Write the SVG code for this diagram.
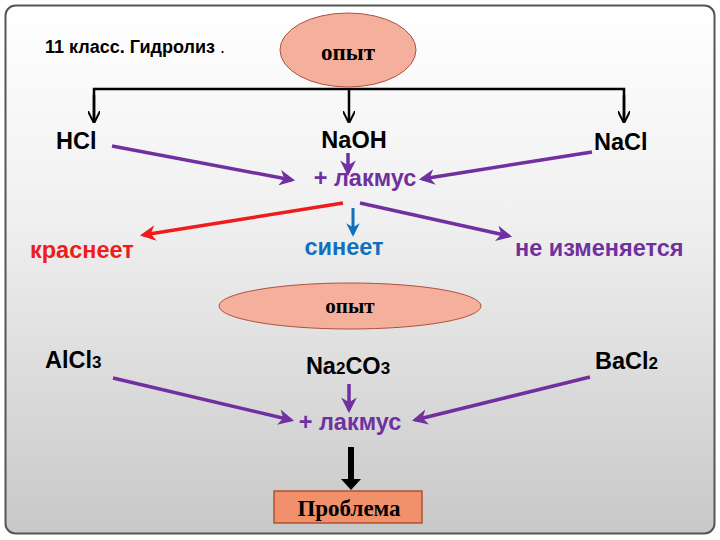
<svg xmlns="http://www.w3.org/2000/svg" width="720" height="540" viewBox="0 0 720 540">
<defs>
<linearGradient id="bg" x1="0" y1="0" x2="0" y2="1">
<stop offset="0" stop-color="#FFFFFF"/>
<stop offset="0.4" stop-color="#F0F0F0"/>
<stop offset="1" stop-color="#C8C8C8"/>
</linearGradient>
<marker id="mb" viewBox="0 0 10 10" refX="9" refY="5" markerWidth="5" markerHeight="5" orient="auto"><path d="M0,0 L10,5 L0,10" fill="none" stroke="#000" stroke-width="1.6"/></marker>
<marker id="mp" viewBox="0 0 10 10" refX="8" refY="5" markerWidth="4.5" markerHeight="4.5" orient="auto"><path d="M0,0 L10,5 L0,10 L3,5 Z" fill="#7030A0"/></marker>
<marker id="mr" viewBox="0 0 10 10" refX="8" refY="5" markerWidth="4.5" markerHeight="4.5" orient="auto"><path d="M0,0 L10,5 L0,10 L3,5 Z" fill="#EE1C1C"/></marker>
<marker id="mbl" viewBox="0 0 10 10" refX="8" refY="5" markerWidth="4.5" markerHeight="4.5" orient="auto"><path d="M0,0 L10,5 L0,10 L3,5 Z" fill="#1070C0"/></marker>
<style>
.t{font-family:"Liberation Sans",Arial,sans-serif;font-weight:bold;font-size:23.5px;fill:#000}
.s{font-family:"Liberation Serif","Times New Roman",serif;font-weight:bold;font-size:23px;fill:#000}
.p{stroke:#7030A0;stroke-width:3.5;fill:none;marker-end:url(#mp)}
.e{fill:#F4B09C;stroke:#B05040;stroke-width:1}
.sub{font-size:17px}
</style>
</defs>
<rect x="5.5" y="5.5" width="709" height="528" rx="10" fill="url(#bg)" stroke="#555" stroke-width="2"/>
<text x="45" y="53" font-family="'Liberation Sans',Arial,sans-serif" font-size="18" font-weight="bold">11 класс. Гидролиз<tspan font-weight="normal"> .</tspan></text>
<g id="connectors">
<path d="M94,122 V89 H624 V122" fill="none" stroke="#000" stroke-width="2.5"/>
<line x1="94" y1="95" x2="94" y2="122" stroke="#000" stroke-width="2.5" marker-end="url(#mb)"/>
<line x1="349" y1="89" x2="349" y2="122" stroke="#000" stroke-width="2.5" marker-end="url(#mb)"/>
<line x1="624" y1="95" x2="624" y2="122" stroke="#000" stroke-width="2.5" marker-end="url(#mb)"/>
<line class="p" x1="112" y1="146" x2="292" y2="180"/>
<line class="p" x1="348" y1="153" x2="348" y2="173"/>
<line class="p" x1="592" y1="152" x2="422" y2="179"/>
<line x1="343" y1="203" x2="143" y2="235" stroke="#EE1C1C" stroke-width="3.5" marker-end="url(#mr)"/>
<line x1="353" y1="208" x2="353" y2="234" stroke="#1070C0" stroke-width="3" marker-end="url(#mbl)"/>
<line class="p" x1="360" y1="203" x2="509" y2="236"/>
<line class="p" x1="113" y1="378" x2="291" y2="420"/>
<line class="p" x1="349" y1="384" x2="349" y2="410"/>
<line class="p" x1="590" y1="377" x2="415" y2="420"/>
<path d="M348,447 H354 V479 H361 L351,490 L341,479 H348 Z" fill="#000"/>
</g>
<g id="opyt1"><ellipse class="e" cx="348" cy="50" rx="68" ry="37"/><text class="s" x="348" y="60" text-anchor="middle">опыт</text></g>
<g id="hcl"><text class="t" x="56" y="149">HCl</text></g>
<g id="naoh"><text class="t" x="354" y="148" text-anchor="middle">NaOH</text></g>
<g id="nacl"><text class="t" x="594" y="150">NaCl</text></g>
<g id="lakmus1"><text class="t" x="365" y="186" text-anchor="middle" style="fill:#7030A0">+ лакмус</text></g>
<g id="red"><text class="t" x="30" y="258" style="fill:#EE1C1C">краснеет</text></g>
<g id="blue"><text class="t" x="344" y="255" text-anchor="middle" style="fill:#1070C0">синеет</text></g>
<g id="none"><text class="t" x="515" y="256" style="fill:#7030A0">не изменяется</text></g>
<g id="opyt2"><ellipse class="e" cx="350" cy="306" rx="131" ry="23"/><text class="s" x="350" y="313" text-anchor="middle" style="font-size:21px">опыт</text></g>
<g id="alcl3"><text class="t" x="45" y="368">AlCl<tspan class="sub">3</tspan></text></g>
<g id="na2co3"><text class="t" x="348" y="374" text-anchor="middle">Na<tspan class="sub">2</tspan>CO<tspan class="sub">3</tspan></text></g>
<g id="bacl2"><text class="t" x="595" y="369">BaCl<tspan class="sub">2</tspan></text></g>
<g id="lakmus2"><text class="t" x="350" y="430" text-anchor="middle" style="fill:#7030A0">+ лакмус</text></g>
<g id="problem"><rect x="274" y="491" width="148" height="32" fill="#F0916C" stroke="#B0502E" stroke-width="1.5"/><text class="s" x="349" y="516" text-anchor="middle" style="font-size:23px">Проблема</text></g>
</svg>
